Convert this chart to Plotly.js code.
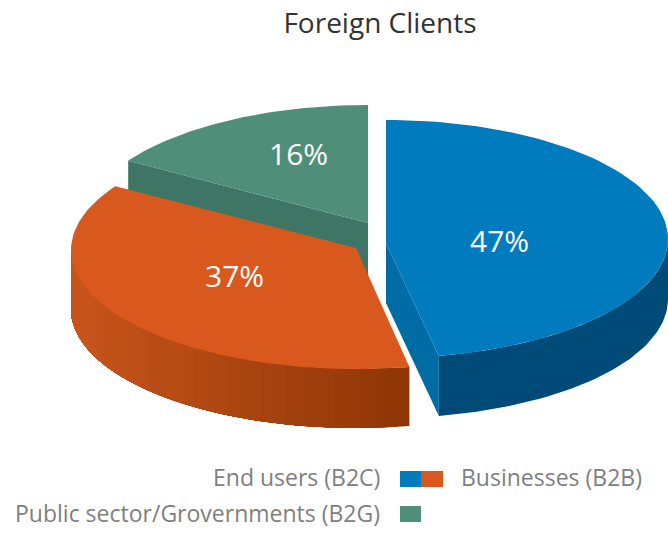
<!DOCTYPE html>
<html>
<head>
<meta charset="utf-8">
<script src="https://cdn.plot.ly/plotly-3.0.1.min.js"></script>
<style>html,body{margin:0;padding:0;background:#fff}#chart{width:668px;height:533px}</style>
</head>
<body>
<div id="chart"></div>
<script>
// Data
const categories = ["End users (B2C)", "Businesses (B2B)", "Public sector/Grovernments (B2G)"];
const shares = [47, 37, 16];
const chartTitle = "Foreign Clients";

// Style
const topColors = ["#007bbd", "#d9581e", "#4f8f7a"];
const innerWallColors = ["#006ca6", "#b84b17", "#3f7564"];
const wallLeft = ["#004a78", "#c9551c", "#3f7564"];
const wallRight = ["#004a78", "#8f3606", "#3f7564"];
const textFont = "Open Sans, sans-serif";

// Projection of each exploded slice onto the tilted disc (plot units = px)
const discs = [
  {cx: 386, cy: 239, rx: 282, ry: 119, ax: 386, ay: 243, depth: 60},
  {cx: 356, cy: 250, rx: 285, ry: 119, ax: 356, ay: 248, depth: 59},
  {cx: 368, cy: 225, rx: 284, ry: 120, ax: 368, ay: 223, depth: 55}
];
const rad = d => d * Math.PI / 180;
const point = (d, deg) => [d.cx + d.rx * Math.sin(rad(deg)), d.cy - d.ry * Math.cos(rad(deg))];

function arc(d, from, to, n) {
  const out = [];
  for (let i = 0; i <= n; i++) out.push(point(d, from + (to - from) * i / n));
  return out;
}
function poly(pts, color) {
  const closed = pts.concat([pts[0]]);
  return {
    type: "scatter", mode: "lines", fill: "toself", fillcolor: color,
    x: closed.map(p => p[0]), y: closed.map(p => p[1]),
    line: {color: color, width: 0}, hoverinfo: "skip", showlegend: false
  };
}
function hexMix(a, b, f) {
  const ch = (h, i) => parseInt(h.substr(1 + 2 * i, 2), 16);
  let s = "#";
  for (let i = 0; i < 3; i++) {
    s += Math.round(ch(a, i) + (ch(b, i) - ch(a, i)) * f).toString(16).padStart(2, "0");
  }
  return s;
}

const angles = [];
let run = 0;
shares.forEach(v => { const start = run; run += v * 3.6; angles.push([start, run]); });

// Painted in overlapping bands so no seams show between gradient steps.
// `from` is the right-hand end of the visible wall, `to` the left-hand end.
function outerWall(i, from, to, n) {
  const d = discs[i], traces = [];
  const xr = point(d, from)[0], xl = point(d, to)[0];
  for (let k = 0; k < n; k++) {
    const a = from + (to - from) * k / n;
    const seg = arc(d, a, to, 60);
    const low = seg.slice().reverse().map(p => [p[0], p[1] + d.depth]);
    const f = (point(d, a)[0] - xl) / (xr - xl);
    traces.push(poly(seg.concat(low), hexMix(wallLeft[i], wallRight[i], f)));
  }
  return traces;
}
function cutWall(i, deg) {
  const d = discs[i], p = point(d, deg);
  return poly([[d.ax, d.ay], p, [p[0], p[1] + d.depth], [d.ax, d.ay + d.depth]], innerWallColors[i]);
}
function topFace(i) {
  const d = discs[i];
  return poly([[d.ax, d.ay]].concat(arc(d, angles[i][0], angles[i][1], 90)), topColors[i]);
}

const traces = [];
// back slice first
traces.push(cutWall(2, angles[2][0]));
traces.push(topFace(2));
// orange: visible outer wall runs from the front cut round to the left edge
traces.push(...outerWall(1, angles[1][0], 270, 40));
traces.push(topFace(1));
// blue: inner cut face at its trailing edge, then the outer wall
traces.push(cutWall(0, angles[0][1]));
traces.push(...outerWall(0, 90, angles[0][1], 1));
traces.push(topFace(0));

const pctPos = [[499, 240], [234, 275], [298, 153]];
const annotations = shares.map((v, i) => ({
  x: pctPos[i][0], y: pctPos[i][1], xref: "x", yref: "y", showarrow: false,
  text: v + "%", font: {family: textFont, size: 30, color: "#ffffff"}
}));
const legendFont = {family: textFont, size: 23, color: "#808080"};
annotations.push(
  {x: 382, y: 477, xref: "x", yref: "y", xanchor: "right", showarrow: false, text: categories[0], font: legendFont},
  {x: 459, y: 477, xref: "x", yref: "y", xanchor: "left", showarrow: false, text: categories[1], font: legendFont},
  {x: 382, y: 513, xref: "x", yref: "y", xanchor: "right", showarrow: false, text: categories[2], font: legendFont}
);
const swatch = (x0, x1, y0, y1, c) => ({type: "rect", xref: "x", yref: "y", x0, x1, y0, y1, fillcolor: c, line: {width: 0}});

const layout = {
  width: 668, height: 533,
  margin: {l: 0, r: 0, t: 0, b: 0},
  paper_bgcolor: "#ffffff", plot_bgcolor: "#ffffff",
  showlegend: false,
  title: {text: chartTitle, x: 380 / 668, xanchor: "center", y: 1 - 23 / 533, yanchor: "middle",
          font: {family: textFont, size: 28, color: "#333333"}},
  xaxis: {range: [0, 668], visible: false, fixedrange: true},
  yaxis: {range: [533, 0], visible: false, fixedrange: true},
  annotations: annotations,
  shapes: [
    swatch(400, 421, 471, 487, topColors[0]),
    swatch(421, 443, 471, 487, topColors[1]),
    swatch(400, 421, 506, 522, topColors[2])
  ]
};
Plotly.newPlot("chart", traces, layout, {displayModeBar: false, staticPlot: true});
</script>
</body>
</html>
